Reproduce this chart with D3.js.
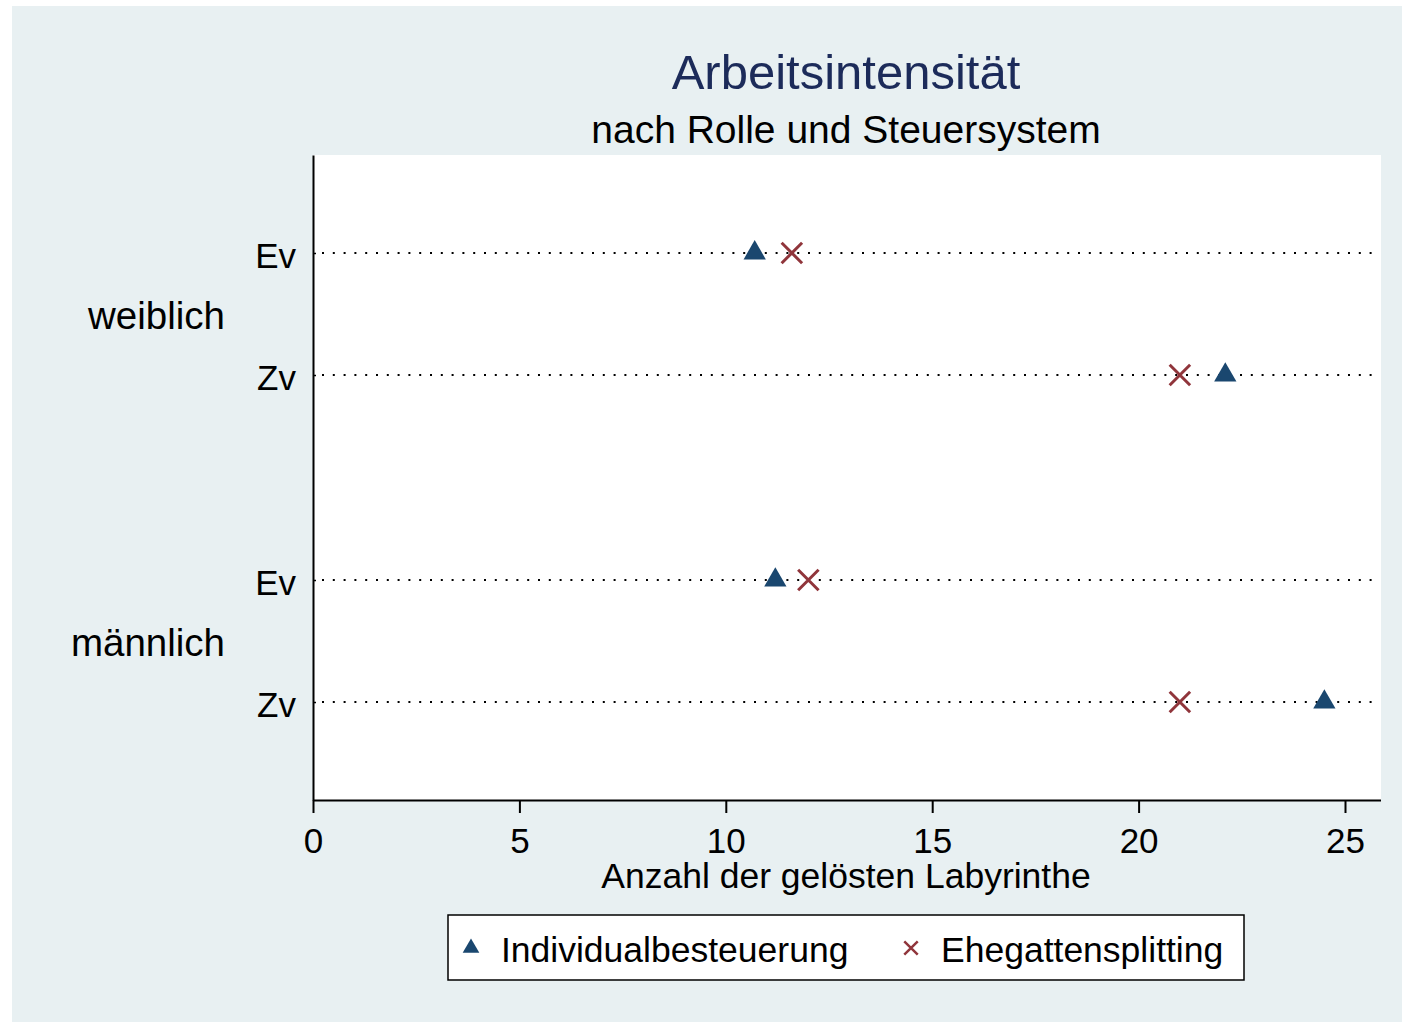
<!DOCTYPE html>
<html><head><meta charset="utf-8">
<script src="https://cdn.jsdelivr.net/npm/d3@7"></script>
<style>body{margin:0;background:#fff}svg{display:block;font-family:"Liberation Sans",Arial,sans-serif}</style>
</head><body>
<script>
const groups = ["weiblich", "männlich"];
const roles = ["Ev", "Zv"];
const rowGroup = [0, 0, 1, 1];
const rowRole = [0, 1, 0, 1];
const rowSlot = [0, 1, 2.68, 3.68];
const individual = [10.7, 22.1, 11.2, 24.5];
const splitting = [11.6, 21.0, 12.0, 21.0];
const xTicks = [0, 5, 10, 15, 20, 25];
const seriesNames = ["Individualbesteuerung", "Ehegattensplitting"];
const title = "Arbeitsintensität";
const subtitle = "nach Rolle und Steuersystem";
const xTitle = "Anzahl der gelösten Labyrinthe";

const W = 1402, H = 1022;
const plot = {l: 313, r: 1381, t: 155, b: 800};
const cTri = "#1a476f", cX = "#90353b";

const svg = d3.select("body").append("svg").attr("width", W).attr("height", H);
svg.append("rect").attr("x", 12).attr("y", 6).attr("width", W - 12).attr("height", H - 6).attr("fill", "#e8f0f2");
svg.append("rect").attr("x", plot.l).attr("y", plot.t).attr("width", plot.r - plot.l).attr("height", plot.b - plot.t).attr("fill", "#fff");

const x = d3.scaleLinear().domain([0, 25]).range([plot.l, 1345]);
const y = d3.scaleLinear().domain([-0.803, 4.483]).range([plot.t, plot.b]);

// titles
svg.append("text").attr("x", 846).attr("y", 89).attr("text-anchor", "middle")
  .attr("font-size", 49).attr("fill", "#1c2b5a").text(title);
svg.append("text").attr("x", 846).attr("y", 143).attr("text-anchor", "middle")
  .attr("font-size", 39).attr("fill", "#000").text(subtitle);

// dotted lines
const rowsIdx = d3.range(individual.length);
svg.append("g").selectAll("line").data(rowsIdx).join("line")
  .attr("x1", plot.l + 9).attr("x2", 1372)
  .attr("y1", i => y(rowSlot[i])).attr("y2", i => y(rowSlot[i]))
  .attr("stroke", "#000").attr("stroke-width", 2)
  .attr("stroke-dasharray", "2,8.8");

// x axis
const xa = svg.append("g").attr("transform", `translate(0,${plot.b})`)
  .call(d3.axisBottom(x).tickValues(xTicks).tickSize(13).tickSizeOuter(0).tickPadding(15));
xa.select(".domain").attr("d", `M${plot.l},0.5H${plot.r}`).attr("stroke", "#000").attr("stroke-width", 2);
xa.selectAll(".tick line").attr("stroke", "#000").attr("stroke-width", 2);
xa.selectAll(".tick text").attr("font-size", 35).attr("fill", "#000").attr("font-family", null);

// y axis
const ya = svg.append("g").attr("transform", `translate(${plot.l},0)`)
  .call(d3.axisLeft(y).tickValues(rowSlot).tickSize(-3).tickSizeOuter(0).tickPadding(17)
    .tickFormat((d, i) => roles[rowRole[i]]));
ya.select(".domain").attr("stroke", "#000").attr("stroke-width", 2);
ya.selectAll(".tick line").attr("stroke", "#000").attr("stroke-width", 1.5);
ya.selectAll(".tick text").attr("font-size", 35).attr("fill", "#000").attr("font-family", null).attr("dy", "0.42em");

// group labels
svg.append("g").selectAll("text").data(groups).join("text")
  .attr("x", 225).attr("text-anchor", "end")
  .attr("y", (g, gi) => {
    const idx = rowsIdx.filter(i => rowGroup[i] === gi);
    return y(d3.mean(idx, i => rowSlot[i])) + 15;
  })
  .attr("font-size", 38.5).attr("fill", "#000").text(g => g);

// markers
const tri = d3.symbol().type(d3.symbolTriangle).size(215);
const xs = d3.symbol().type(d3.symbolTimes).size(275);
svg.append("g").selectAll("path").data(rowsIdx).join("path")
  .attr("d", tri).attr("fill", cTri)
  .attr("transform", i => `translate(${x(individual[i])},${y(rowSlot[i])})`);
svg.append("g").selectAll("path").data(rowsIdx).join("path")
  .attr("d", xs).attr("fill", "none").attr("stroke", cX).attr("stroke-width", 3)
  .attr("transform", i => `translate(${x(splitting[i])},${y(rowSlot[i])})`);

// legend
const lg = svg.append("g");
lg.append("rect").attr("x", 448).attr("y", 915).attr("width", 796).attr("height", 65)
  .attr("fill", "#fff").attr("stroke", "#000").attr("stroke-width", 1.5);
lg.append("path").attr("d", d3.symbol().type(d3.symbolTriangle).size(120)())
  .attr("fill", cTri).attr("transform", "translate(471,948)");
lg.append("text").attr("x", 501).attr("y", 962).attr("font-size", 35.5).text(seriesNames[0]);
lg.append("path").attr("d", d3.symbol().type(d3.symbolTimes).size(120)())
  .attr("fill", "none").attr("stroke", cX).attr("stroke-width", 2.5).attr("transform", "translate(911,948)");
lg.append("text").attr("x", 941).attr("y", 962).attr("font-size", 35.5).text(seriesNames[1]);

// x title
svg.append("text").attr("x", 846).attr("y", 888).attr("text-anchor", "middle")
  .attr("font-size", 35.5).attr("fill", "#000").text(xTitle);
</script>
</body></html>
